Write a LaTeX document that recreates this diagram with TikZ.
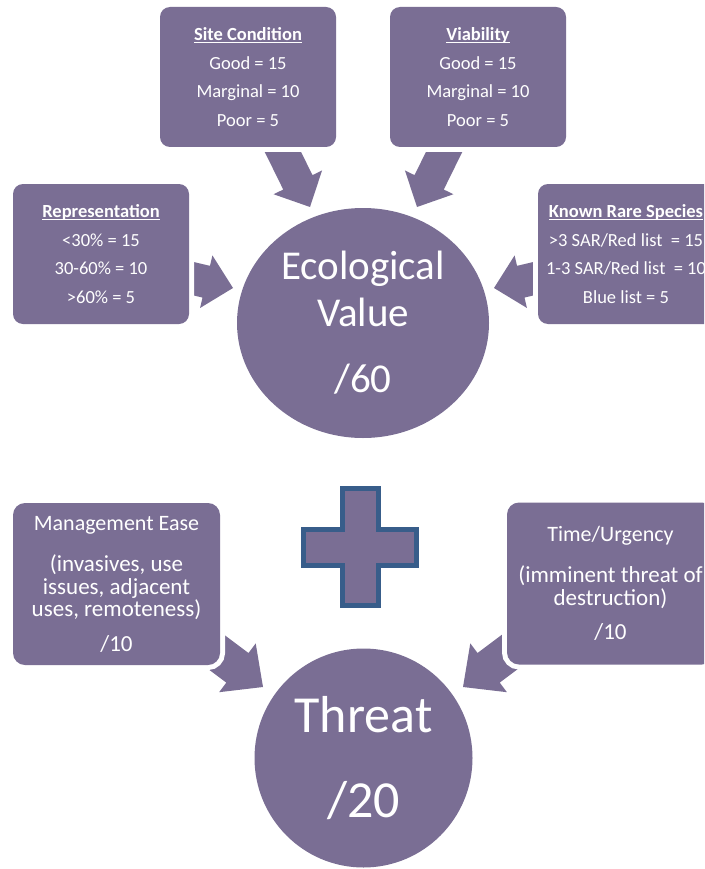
\documentclass[tikz,border=0pt]{standalone}
\usepackage{fontspec}
\setmainfont{Carlito}
\usetikzlibrary{calc,shapes.geometric}
\definecolor{pfill}{RGB}{122,110,148}
\definecolor{pedge}{RGB}{56,93,138}
\newcommand\myul[1]{\setbox0\hbox{#1}\rlap{\rule[-2.4pt]{\wd0}{1.1pt}}\box0}
% tail, tip, shaft half width, head half width, head length
\newcommand\blockarrow[5]{%
  \coordinate (ba-h) at ($(#2)!#5!(#1)$);
  \fill[arrowfill] ($(#1)!#3!90:(#2)$) -- ($(ba-h)!#3!90:(#2)$) -- ($(ba-h)!#4!90:(#2)$) -- (#2)
    -- ($(ba-h)!#4!-90:(#2)$) -- ($(ba-h)!#3!-90:(#2)$) -- ($(#1)!#3!-90:(#2)$) -- cycle;}
\begin{document}
\begin{tikzpicture}[x=1pt,y=-1pt,
  arrowfill/.style={fill=pfill},
  box/.style={fill=pfill, rounded corners=10pt, inner sep=0pt, text=white, align=center,
    preaction={draw=white, line width=10pt}},
  smallbox/.style={box, minimum width=176pt, minimum height=140pt,
    font=\fontsize{18.5}{28.4}\selectfont},
  bigbox/.style={box, rounded corners=12pt, minimum width=207pt, minimum height=162pt,
    font=\fontsize{23}{22.5}\selectfont},
  circ/.style={ellipse, fill=pfill, inner sep=0pt, text=white, align=center},
  plusst/.style={fill=pfill, draw=pedge, line width=5pt, miter limit=10}]
\useasboundingbox (0,0) rectangle (704,869);
\clip (0,0) rectangle (704,869);
% arrow end points
\coordinate (a1t) at (277,140); \coordinate (a1h) at (310,207);
\coordinate (a2t) at (450,140); \coordinate (a2h) at (417,207);
\coordinate (a3t) at (165,272); \coordinate (a3h) at (233,288);
\coordinate (a4t) at (562,272); \coordinate (a4h) at (494,288);
\coordinate (a5t) at (195,636); \coordinate (a5h) at (263,687);
\coordinate (a6t) at (531,636); \coordinate (a6h) at (463,687);
\blockarrow{a1t}{a1h}{16.3pt}{27pt}{27.5pt}
\blockarrow{a2t}{a2h}{16.3pt}{27pt}{27.5pt}
\blockarrow{a3t}{a3h}{16.3pt}{27pt}{27.5pt}
\blockarrow{a4t}{a4h}{16.3pt}{27pt}{27.5pt}
\blockarrow{a5t}{a5h}{18.5pt}{30.5pt}{32pt}
\blockarrow{a6t}{a6h}{18.5pt}{30.5pt}{32pt}
% boxes
\node[smallbox] (sc) at (248,77) {\myul{\bfseries Site Condition}\\Good = 15\\Marginal = 10\\Poor = 5};
\node[smallbox] (via) at (478,77) {\myul{\bfseries Viability}\\Good = 15\\Marginal = 10\\Poor = 5};
\node[smallbox] (rep) at (101,254) {\myul{\bfseries Representation}\\<30\% = 15\\30-60\% = 10\\>60\% = 5};
\node[smallbox] (kr) at (626,254) {\myul{\bfseries Known Rare Species}\\>3 SAR/Red list\ \ = 15\\1-3 SAR/Red list\ \ = 10\\Blue list = 5};
\node[bigbox] (mg) at (116.5,584) {{\fontsize{22}{22.5}\selectfont Management Ease}\\[19pt](invasives, use\\issues, adjacent\\uses, remoteness)\\[12pt]/10};
\node[bigbox] (tu) at (610.5,583.5) {{\fontsize{22}{22.5}\selectfont Time/Urgency}\\[19pt](imminent threat of\\destruction)\\[12pt]/10};
% circles
\node[circ, minimum width=252pt, minimum height=230pt, font=\fontsize{41}{47}\selectfont] (ev) at (363,323) {Ecological\\Value\\[19pt]/60};
\node[circ, minimum width=218pt, minimum height=219pt, font=\fontsize{52}{52}\selectfont] (th) at (363.5,758) {Threat\\[33pt]/20};
% plus sign
\draw[plusst] (342.5,488.5) -- (378.5,488.5) -- (378.5,529.5) -- (416.5,529.5) -- (416.5,565.5)
  -- (378.5,565.5) -- (378.5,605.5) -- (342.5,605.5) -- (342.5,565.5) -- (303.5,565.5)
  -- (303.5,529.5) -- (342.5,529.5) -- cycle;
\end{tikzpicture}
\end{document}
